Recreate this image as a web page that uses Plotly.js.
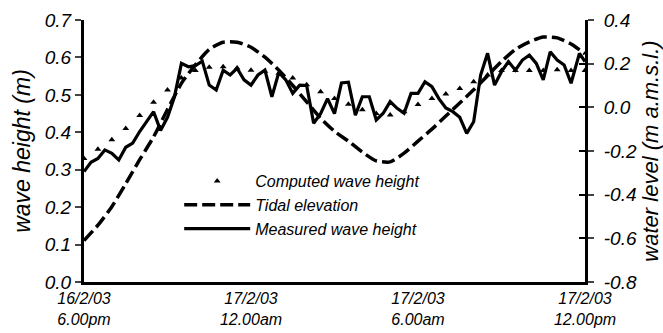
<!DOCTYPE html>
<html>
<head>
<meta charset="utf-8">
<script src="https://cdn.plot.ly/plotly-3.0.1.min.js"></script>
<style>html,body{margin:0;padding:0;background:#fff;}#chart{width:663px;height:333px;}</style>
</head>
<body>
<div id="chart"></div>
<script>
// hours after 16/2/03 6.00pm
const computedHours = [0,0.5,1,1.5,2,2.5,3,3.5,4,4.5,5,5.5,6,6.5,7,7.5,8,8.5,9,9.5,10,10.5,11,11.5,12,12.5,13,13.5,14,14.5,15,15.5,16,16.5,17,17.5,18];
const computedWaveHeight = [0.33,0.355,0.38,0.41,0.445,0.48,0.513,0.545,0.565,0.574,0.575,0.572,0.566,0.563,0.558,0.545,0.527,0.508,0.49,0.475,0.46,0.45,0.446,0.455,0.474,0.49,0.502,0.517,0.535,0.553,0.565,0.565,0.565,0.565,0.567,0.565,0.565];
const tidalHours = computedHours;
const tidalElevation = [-0.61,-0.54,-0.455,-0.35,-0.24,-0.135,-0.01,0.11,0.195,0.265,0.298,0.298,0.275,0.23,0.17,0.1,0.025,-0.05,-0.11,-0.155,-0.205,-0.245,-0.25,-0.21,-0.155,-0.1,-0.04,0.02,0.08,0.145,0.21,0.265,0.3,0.322,0.318,0.29,0.245];
const measuredHours = [0,0.25,0.5,0.75,1,1.25,1.5,1.75,2,2.25,2.5,2.75,3,3.25,3.5,3.75,4,4.25,4.5,4.75,5,5.25,5.5,5.75,6,6.25,6.5,6.75,7,7.25,7.5,7.75,8,8.25,8.5,8.75,9,9.25,9.5,9.75,10,10.25,10.5,10.75,11,11.25,11.5,11.75,12,12.25,12.5,12.75,13,13.25,13.5,13.75,14,14.25,14.5,14.75,15,15.25,15.5,15.75,16,16.25,16.5,16.75,17,17.25,17.5,17.8,18];
const measuredWaveHeight = [0.295,0.32,0.33,0.353,0.344,0.326,0.36,0.371,0.402,0.428,0.455,0.405,0.44,0.495,0.584,0.575,0.578,0.59,0.526,0.513,0.566,0.553,0.571,0.54,0.526,0.553,0.566,0.495,0.56,0.54,0.504,0.526,0.525,0.424,0.45,0.49,0.45,0.532,0.534,0.446,0.495,0.495,0.433,0.451,0.482,0.464,0.451,0.504,0.504,0.535,0.522,0.49,0.465,0.455,0.44,0.397,0.428,0.553,0.611,0.526,0.562,0.589,0.566,0.593,0.606,0.584,0.54,0.615,0.593,0.58,0.531,0.611,0.589];
const xTickVals = [0,6,12,18];
const xTickText = ['16/2/03<br>6.00pm','17/2/03<br>12.00am','17/2/03<br>6.00am','17/2/03<br>12.00pm'];
const rightTickVals = [-0.8,-0.6,-0.4,-0.2,0,0.2,0.4];
const rightTickText = ['-0.8','-0.6','-0.4','-0.2','0.0','0.2','0.4'];

const FONT = 'Liberation Sans, Arial, sans-serif';
const traces = [
  {x: computedHours, y: computedWaveHeight, name: 'Computed wave height', mode: 'markers', type: 'scatter',
   marker: {symbol: 'triangle-up', size: 6, color: '#000'}, yaxis: 'y'},
  {x: tidalHours, y: tidalElevation, name: 'Tidal elevation', mode: 'lines', type: 'scatter',
   line: {color: '#000', width: 3.5, dash: '13px,5px', shape: 'spline', smoothing: 0.6}, yaxis: 'y2'},
  {x: measuredHours, y: measuredWaveHeight, name: 'Measured wave height', mode: 'lines', type: 'scatter',
   line: {color: '#000', width: 3.2}, yaxis: 'y'},
  {x: [], y: [], yaxis: 'y3', showlegend: false, hoverinfo: 'skip', type: 'scatter'}
];
const layout = {
  width: 663, height: 333,
  margin: {l: 84, r: 78, t: 20, b: 51},
  paper_bgcolor: '#fff', plot_bgcolor: '#fff',
  font: {family: FONT, color: '#000', style: 'italic'},
  showlegend: true,
  legend: {x: 0.19, y: 0.45, xanchor: 'left', yanchor: 'top', bgcolor: 'rgba(0,0,0,0)',
           font: {family: FONT, size: 16, style: 'italic', color: '#000'}, itemwidth: 66, tracegroupgap: 0},
  xaxis: {range: [0, 18], tickvals: xTickVals, ticktext: xTickText, showgrid: false, zeroline: false,
          showline: true, linewidth: 3, linecolor: '#000', ticks: '', tickfont: {family: FONT, size: 16, style: 'italic'}},
  yaxis: {range: [0, 0.7], dtick: 0.1, tickformat: '.1f', showgrid: false, zeroline: false,
          showline: true, linewidth: 3, linecolor: '#000', ticks: 'outside', ticklen: 6, tickwidth: 2,
          tickfont: {family: FONT, size: 19, style: 'italic'},
          title: {text: 'wave height (m)', font: {family: FONT, size: 23, style: 'italic'}, standoff: 8}},
  yaxis2: {range: [-0.8, 0.4], tickvals: rightTickVals, ticktext: rightTickText, overlaying: 'y', side: 'right',
           showgrid: false, zeroline: false, showline: true, linewidth: 3, linecolor: '#000',
           ticks: 'outside', ticklen: 6, tickwidth: 2, ticklabelstandoff: 6,
           tickfont: {family: FONT, size: 19, style: 'italic'},
           title: {text: 'water level (m a.m.s.l.)', font: {family: FONT, size: 22, style: 'italic'}, standoff: 10}},
  yaxis3: {range: [-0.8, 0.4], tickvals: rightTickVals, overlaying: 'y', side: 'right', anchor: 'x',
           showgrid: false, zeroline: false, showline: false, showticklabels: false,
           ticks: 'inside', ticklen: 6, tickwidth: 2, tickcolor: '#000'}
};
Plotly.newPlot('chart', traces, layout, {displayModeBar: false, staticPlot: true});
</script>
</body>
</html>
